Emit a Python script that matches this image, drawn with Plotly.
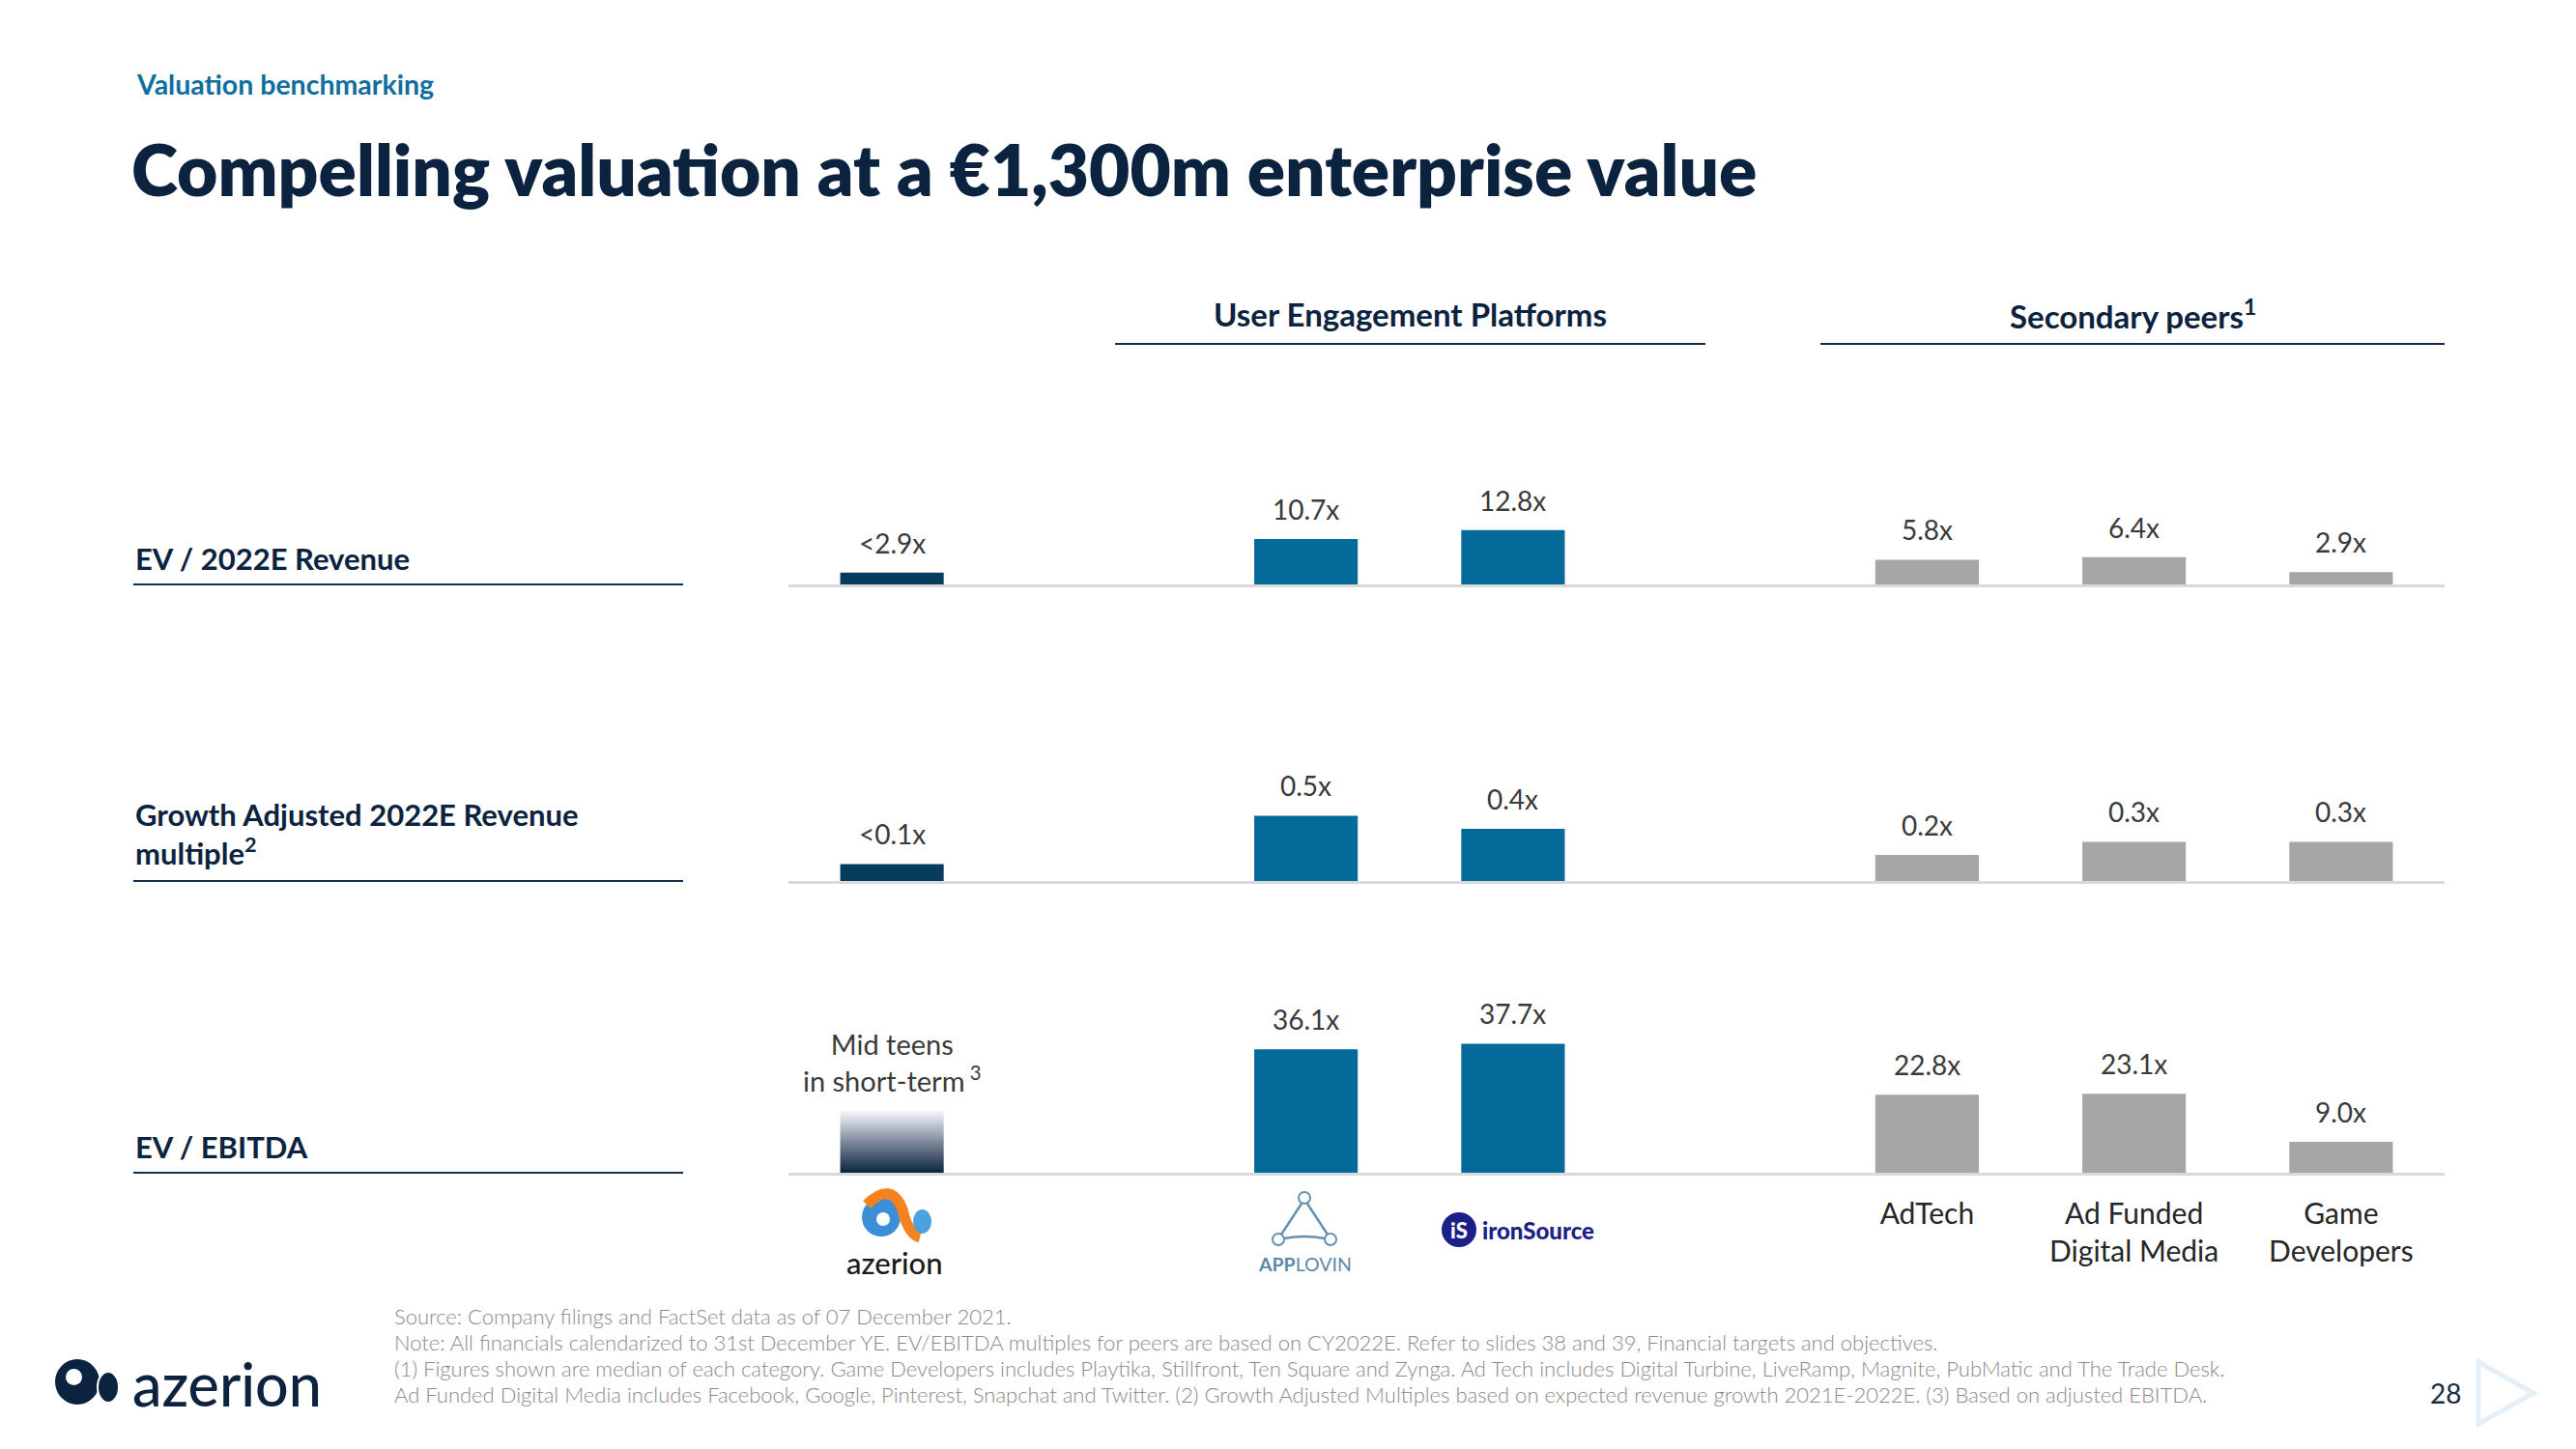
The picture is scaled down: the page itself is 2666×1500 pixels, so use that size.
import plotly.graph_objects as go

# ---------------- data ----------------
companies = ["Azerion", "AppLovin", "ironSource", "AdTech", "Ad Funded Digital Media", "Game Developers"]
company_group = ["azerion", "uep", "uep", "peer", "peer", "peer"]

ev_revenue = [2.8, 10.7, 12.8, 5.8, 6.4, 2.9]
ev_revenue_labels = ["<2.9x", "10.7x", "12.8x", "5.8x", "6.4x", "2.9x"]

growth_adj_revenue = [0.13, 0.5, 0.4, 0.2, 0.3, 0.3]
growth_adj_revenue_labels = ["<0.1x", "0.5x", "0.4x", "0.2x", "0.3x", "0.3x"]

ev_ebitda = [18.0, 36.1, 37.7, 22.8, 23.1, 9.0]
ev_ebitda_labels = ["Mid teens<br>in short-term<sup> 3</sup>", "36.1x", "37.7x", "22.8x", "23.1x", "9.0x"]

metric_names = ["EV / 2022E Revenue",
                "Growth Adjusted 2022E Revenue<br>multiple<sup>2</sup>",
                "EV / EBITDA"]
peer_tick_labels = ["AdTech", "Ad Funded<br>Digital Media", "Game<br>Developers"]
section_titles = ["User Engagement Platforms", "Secondary peers<sup>1</sup>"]

footnotes = [
    "Source: Company filings and FactSet data as of 07 December 2021.",
    "Note: All financials calendarized to 31st December YE. EV/EBITDA multiples for peers are based on CY2022E. Refer to slides 38 and 39, Financial targets and objectives.",
    "(1) Figures shown are median of each category. Game Developers includes Playtika, Stillfront, Ten Square and Zynga. Ad Tech includes Digital Turbine, LiveRamp, Magnite, PubMatic and The Trade Desk.",
    "Ad Funded Digital Media includes Facebook, Google, Pinterest, Snapchat and Twitter. (2) Growth Adjusted Multiples based on expected revenue growth 2021E-2022E. (3) Based on adjusted EBITDA.",
]

# ---------------- layout helpers ----------------
# the page body has an 8px margin, so the figure is sized to fit inside the window
OFF = 8
W, H = 2666 - 2 * OFF, 1500 - 2 * OFF
def X(px):
    return (px - OFF) / W
def Y(py):
    return 1 - (py - OFF) / H

FONT = "Lato"
NAVY = "#0c2340"
GROUP_START = {"azerion": 0, "uep": 2, "peer": 5}
COLORS = {"azerion": "#063c5e", "uep": "#046a99", "peer": "#a6a6a6"}
BAR_W = 0.5

# slot positions derived from groups
slots = []
_count = {}
for g in company_group:
    slots.append(GROUP_START[g] + _count.get(g, 0))
    _count[g] = _count.get(g, 0) + 1

# rows: (values, labels, baseline px, px per unit)
rows = [
    (ev_revenue, ev_revenue_labels, 605, 4.40),
    (growth_adj_revenue, growth_adj_revenue_labels, 912, 135.2),
    (ev_ebitda, ev_ebitda_labels, 1214, 3.542),
]
DOM_H = 200

fig = go.Figure()
annotations = []
shapes = []
layout_axes = {}

for i, (vals, labs, base, scale) in enumerate(rows, start=1):
    xa = "x" if i == 1 else f"x{i}"
    ya = "y" if i == 1 else f"y{i}"
    for g in ["azerion", "uep", "peer"]:
        idx = [k for k, gg in enumerate(company_group) if gg == g]
        if g == "azerion" and i == 3:
            # gradient bar for the "mid teens" estimate
            for k in idx:
                c, v = slots[k], vals[k]
                fig.add_trace(go.Scatter(
                    x=[c - BAR_W / 2, c + BAR_W / 2, c + BAR_W / 2, c - BAR_W / 2, c - BAR_W / 2],
                    y=[0, 0, v, v, 0], mode="lines", fill="toself",
                    line=dict(width=0, color="rgba(0,0,0,0)"),
                    fillgradient=dict(type="vertical",
                                      colorscale=[[0, "#0b2340"], [0.5, "#7d8a9c"], [1, "#f6f6f9"]]),
                    xaxis=xa, yaxis=ya, showlegend=False, hoverinfo="skip"))
            continue
        fig.add_trace(go.Bar(
            x=[slots[k] for k in idx], y=[vals[k] for k in idx],
            width=BAR_W, marker=dict(color=COLORS[g], line=dict(width=0)),
            xaxis=xa, yaxis=ya, showlegend=False, name=g))
    for k in range(len(vals)):
        annotations.append(dict(
            x=slots[k], y=vals[k], xref=xa, yref=ya, text=labs[k], showarrow=False,
            xanchor="center", yanchor="bottom", yshift=12,
            font=dict(family=FONT, size=29 if "<br>" in labs[k] else 28, color="#3a3a3a")))
    xkey = "xaxis" if i == 1 else f"xaxis{i}"
    ykey = "yaxis" if i == 1 else f"yaxis{i}"
    xdict = dict(
        domain=[X(816), X(2530)], range=[-0.5, 7.5], anchor=ya,
        showline=True, linecolor="#d9d9d9", linewidth=3,
        showgrid=False, zeroline=False, fixedrange=True,
        showticklabels=False, ticks="")
    if i == 3:
        xdict.update(
            showticklabels=True,
            tickvals=[slots[k] for k, g in enumerate(company_group) if g == "peer"],
            ticktext=peer_tick_labels,
            ticks="outside", ticklen=14, tickcolor="rgba(0,0,0,0)",
            tickfont=dict(family=FONT, size=30, color="#262626"))
    layout_axes[xkey] = xdict
    layout_axes[ykey] = dict(
        domain=[Y(base), Y(base - DOM_H)], range=[0, DOM_H / scale],
        anchor=xa, visible=False, fixedrange=True)
    # left metric label + underline
    annotations.append(dict(
        x=X(138), y=Y([578, 863, 1187][i - 1]), xref="paper", yref="paper",
        text=metric_names[i - 1], showarrow=False, xanchor="left", yanchor="middle",
        align="left", font=dict(family=FONT, size=31, color=NAVY, weight=700)))
    shapes.append(dict(type="line", xref="paper", yref="paper",
                       x0=X(138), x1=X(707), y0=Y(base), y1=Y(base),
                       line=dict(color="#12304f", width=2)))

# section headers
for txt, (x0, x1) in zip(section_titles, [(1154, 1765), (1884, 2530)]):
    annotations.append(dict(x=X((x0 + x1) / 2), y=Y(325), xref="paper", yref="paper",
                            text=txt, showarrow=False, xanchor="center", yanchor="middle",
                            font=dict(family=FONT, size=33, color=NAVY, weight=700)))
    shapes.append(dict(type="line", xref="paper", yref="paper", x0=X(x0), x1=X(x1),
                       y0=Y(356), y1=Y(356), line=dict(color="#1a2a40", width=2)))

# titles
annotations.append(dict(x=X(139), y=Y(87), xref="paper", yref="paper",
                        text="Valuation benchmarking", showarrow=False, xanchor="left",
                        yanchor="middle", font=dict(family=FONT, size=28.5, color="#0f6e9e", weight=700)))
annotations.append(dict(x=X(134), y=Y(175), xref="paper", yref="paper",
                        text="Compelling valuation at a €1,300m enterprise value", showarrow=False,
                        xanchor="left", yanchor="middle",
                        font=dict(family=FONT, size=73, color=NAVY, weight=800)))

# footnotes
for j, t in enumerate(footnotes):
    annotations.append(dict(x=X(406), y=Y(1362 + j * 27.3), xref="paper", yref="paper",
                            text=t, showarrow=False, xanchor="left", yanchor="middle",
                            font=dict(family=FONT, size=22, color="#8a8a8a", weight=300)))

# page number + chevron
annotations.append(dict(x=X(2531), y=Y(1442), xref="paper", yref="paper", text="28",
                        showarrow=False, xanchor="center", yanchor="middle",
                        font=dict(family=FONT, size=28, color="#1a2a40")))
shapes.append(dict(type="path", xref="paper", yref="paper",
                   path=f"M {X(2565)} {Y(1410)} L {X(2622)} {Y(1442)} L {X(2565)} {Y(1474)} Z",
                   line=dict(color="#e4f0f8", width=5)))

# ---- small azerion logo (under first bar) ----
shapes += [
    dict(type="circle", xref="paper", yref="paper", x0=X(892), x1=X(932), y0=Y(1280), y1=Y(1240),
         fillcolor="#3b8fd6", line=dict(width=0)),
    dict(type="path", xref="paper", yref="paper",
         path=f"M {X(897)} {Y(1247)} Q {X(922)} {Y(1222)} {X(934)} {Y(1252)} Q {X(940)} {Y(1278)} {X(952)} {Y(1281)}",
         line=dict(color="#f5821f", width=11)),
    dict(type="circle", xref="paper", yref="paper", x0=X(907), x1=X(921), y0=Y(1269), y1=Y(1255),
         fillcolor="white", line=dict(width=0)),
    dict(type="circle", xref="paper", yref="paper", x0=X(945), x1=X(964), y0=Y(1277), y1=Y(1252),
         fillcolor="#4aa3e0", line=dict(width=0)),
]
annotations.append(dict(x=X(926), y=Y(1307), xref="paper", yref="paper", text="azerion",
                        showarrow=False, xanchor="center", yanchor="middle",
                        font=dict(family=FONT, size=31, color="#1a1a1a", weight=500)))

# ---- AppLovin logo ----
AL = "#6690b0"
shapes += [
    dict(type="path", xref="paper", yref="paper",
         path=f"M {X(1347)} {Y(1246)} L {X(1326)} {Y(1278)} M {X(1353)} {Y(1246)} L {X(1374)} {Y(1278)} "
              f"M {X(1329)} {Y(1282)} Q {X(1350)} {Y(1278)} {X(1371)} {Y(1282)}",
         line=dict(color=AL, width=2.5)),
    dict(type="circle", xref="paper", yref="paper", x0=X(1344), x1=X(1356), y0=Y(1246), y1=Y(1234),
         fillcolor="white", line=dict(color=AL, width=2)),
    dict(type="circle", xref="paper", yref="paper", x0=X(1317), x1=X(1329), y0=Y(1289), y1=Y(1277),
         fillcolor="white", line=dict(color=AL, width=2)),
    dict(type="circle", xref="paper", yref="paper", x0=X(1371), x1=X(1383), y0=Y(1289), y1=Y(1277),
         fillcolor="white", line=dict(color=AL, width=2)),
]
annotations.append(dict(x=X(1350), y=Y(1308), xref="paper", yref="paper",
                        text="<b>APP</b>LOVIN", showarrow=False, xanchor="center", yanchor="middle",
                        font=dict(family=FONT, size=19.5, color="#5d88a8")))

# ---- ironSource logo ----
IS = "#1c1f87"
shapes.append(dict(type="circle", xref="paper", yref="paper", x0=X(1492), x1=X(1528),
                   y0=Y(1291), y1=Y(1255), fillcolor=IS, line=dict(width=0)))
annotations.append(dict(x=X(1510), y=Y(1273), xref="paper", yref="paper", text="iS",
                        showarrow=False, xanchor="center", yanchor="middle",
                        font=dict(family=FONT, size=22, color="white", weight=900)))
annotations.append(dict(x=X(1532), y=Y(1273), xref="paper", yref="paper", text="ironSource",
                        showarrow=False, xanchor="left", yanchor="middle",
                        font=dict(family=FONT, size=24, color=IS, weight=900)))

# ---- footer azerion logo ----
shapes += [
    dict(type="circle", xref="paper", yref="paper", x0=X(57), x1=X(103), y0=Y(1454), y1=Y(1407),
         fillcolor=NAVY, line=dict(width=0)),
    dict(type="circle", xref="paper", yref="paper", x0=X(68), x1=X(85), y0=Y(1434), y1=Y(1417),
         fillcolor="white", line=dict(width=0)),
    dict(type="circle", xref="paper", yref="paper", x0=X(101), x1=X(123), y0=Y(1452), y1=Y(1420),
         fillcolor=NAVY, line=dict(color="white", width=2)),
]
annotations.append(dict(x=X(135), y=Y(1432), xref="paper", yref="paper", text="azerion",
                        showarrow=False, xanchor="left", yanchor="middle",
                        font=dict(family=FONT, size=61, color=NAVY, weight=500)))

fig.update_layout(
    width=W, height=H, margin=dict(l=0, r=0, t=0, b=0),
    paper_bgcolor="white", plot_bgcolor="rgba(0,0,0,0)",
    showlegend=False, barmode="overlay",
    annotations=annotations, shapes=shapes,
    font=dict(family=FONT),
    **layout_axes,
)

fig.write_html("out.html", config={"displayModeBar": False})
